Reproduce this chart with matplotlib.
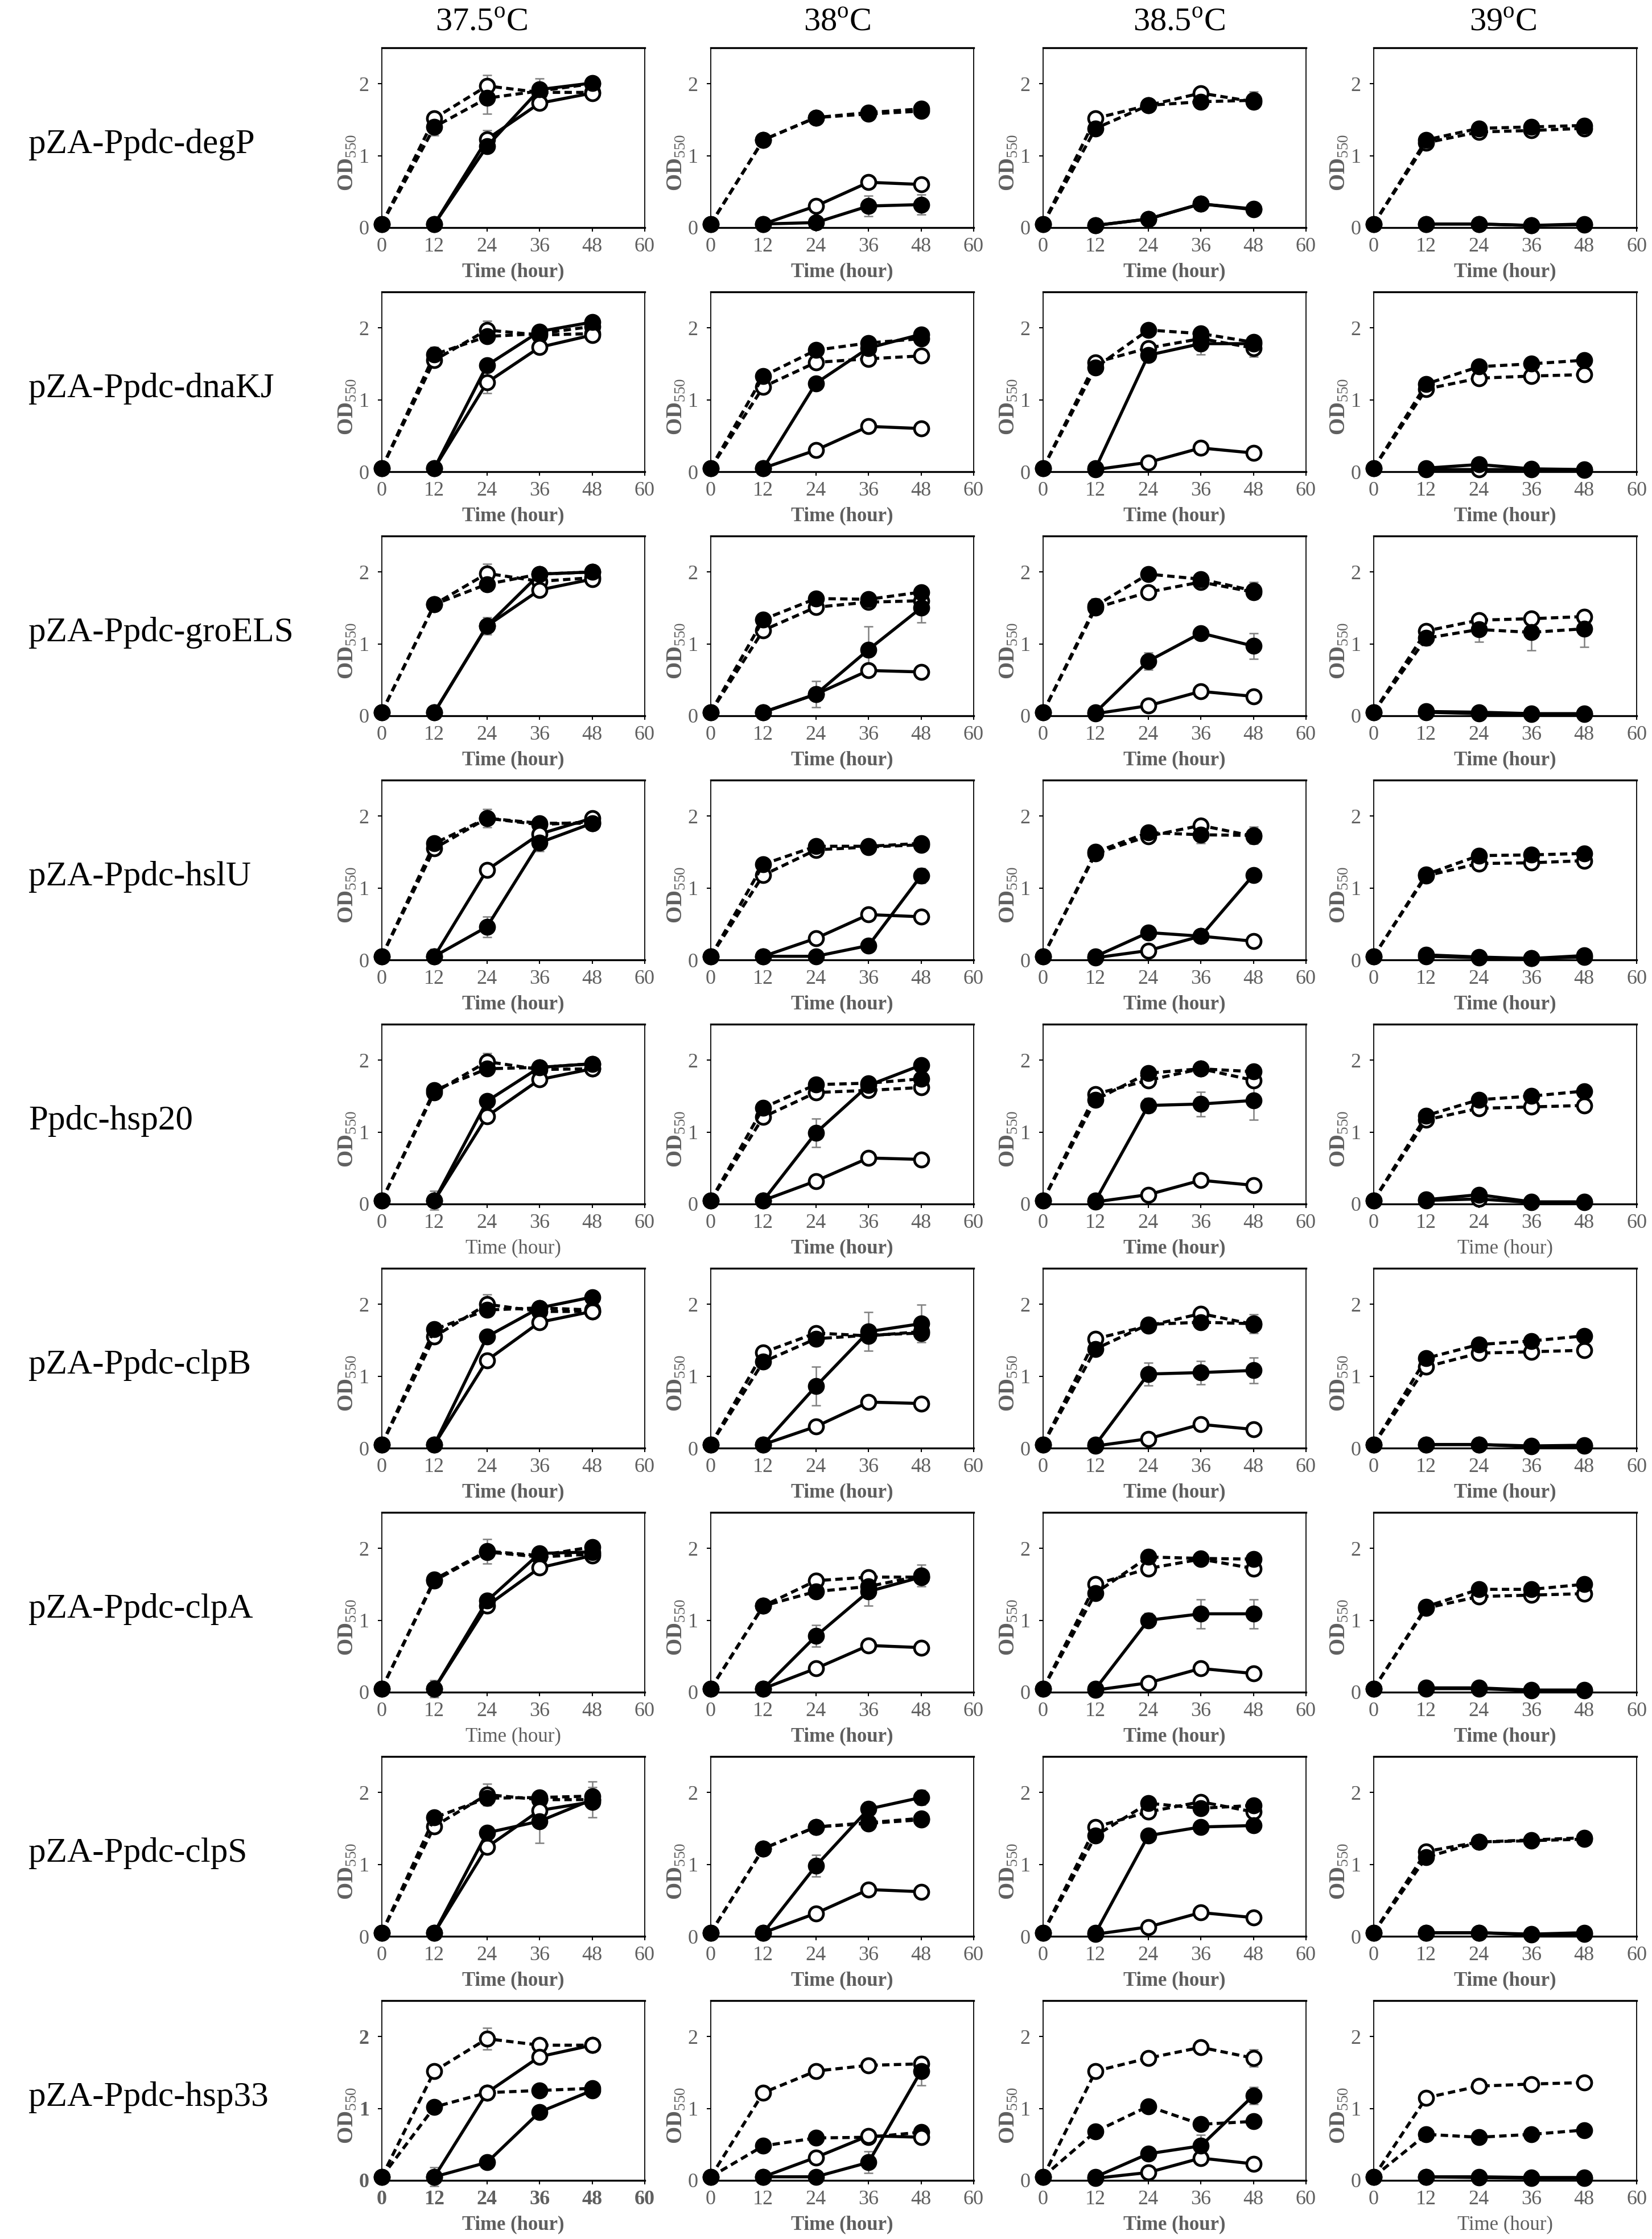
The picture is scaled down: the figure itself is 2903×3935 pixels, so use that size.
import matplotlib
matplotlib.use('Agg')
import matplotlib.pyplot as plt

plt.rcParams['font.family'] = ['Liberation Serif', 'DejaVu Serif']
plt.rcParams['mathtext.fontset'] = 'custom'
plt.rcParams['mathtext.rm'] = 'Liberation Serif'
plt.rcParams['mathtext.bf'] = 'Liberation Serif:bold'

# ---------------- DATA ----------------
temperatures = ['37.5$^{\\mathrm{o}}$C', '38$^{\\mathrm{o}}$C', '38.5$^{\\mathrm{o}}$C', '39$^{\\mathrm{o}}$C']
constructs = ['pZA-Ppdc-degP', 'pZA-Ppdc-dnaKJ', 'pZA-Ppdc-groELS', 'pZA-Ppdc-hslU', 'Ppdc-hsp20',
              'pZA-Ppdc-clpB', 'pZA-Ppdc-clpA', 'pZA-Ppdc-clpS', 'pZA-Ppdc-hsp33']

time_dash = [0, 12, 24, 36, 48]
time_solid = [12, 24, 36, 48]

# one list per temperature (37.5, 38, 38.5, 39)
degP_dash_open = [[0.05, 1.52, 1.97, 1.88, 1.88], [0.05, 1.22, 1.53, 1.58, 1.62], [0.05, 1.52, 1.70, 1.87, 1.75], [0.05, 1.18, 1.33, 1.35, 1.38]]
degP_dash_fill = [[0.05, 1.40, 1.80, 1.90, 2.00], [0.05, 1.22, 1.53, 1.60, 1.65], [0.05, 1.38, 1.70, 1.75, 1.77], [0.05, 1.22, 1.38, 1.40, 1.42]]
degP_sol_open = [[0.05, 1.23, 1.73, 1.87], [0.05, 0.30, 0.63, 0.60], [0.03, 0.12, 0.33, 0.25], [0.05, 0.05, 0.03, 0.04]]
degP_sol_fill = [[0.05, 1.13, 1.92, 2.01], [0.05, 0.07, 0.30, 0.32], [0.03, 0.12, 0.33, 0.26], [0.05, 0.05, 0.03, 0.05]]

dnaKJ_dash_open = [[0.05, 1.55, 1.97, 1.90, 1.92], [0.05, 1.18, 1.52, 1.57, 1.61], [0.05, 1.52, 1.72, 1.85, 1.72], [0.05, 1.15, 1.30, 1.33, 1.35]]
dnaKJ_dash_fill = [[0.05, 1.63, 1.88, 1.92, 2.02], [0.05, 1.33, 1.69, 1.79, 1.85], [0.05, 1.45, 1.97, 1.92, 1.80], [0.05, 1.22, 1.46, 1.50, 1.55]]
dnaKJ_sol_open = [[0.05, 1.24, 1.73, 1.90], [0.05, 0.30, 0.63, 0.60], [0.03, 0.13, 0.33, 0.26], [0.03, 0.03, 0.03, 0.02]]
dnaKJ_sol_fill = [[0.05, 1.48, 1.95, 2.08], [0.05, 1.23, 1.72, 1.91], [0.05, 1.62, 1.78, 1.78], [0.05, 0.10, 0.04, 0.03]]

groELS_dash_open = [[0.05, 1.55, 1.98, 1.87, 1.92], [0.05, 1.19, 1.51, 1.58, 1.60], [0.05, 1.50, 1.72, 1.86, 1.72], [0.05, 1.18, 1.33, 1.35, 1.38]]
groELS_dash_fill = [[0.05, 1.55, 1.83, 1.97, 2.00], [0.05, 1.34, 1.63, 1.62, 1.72], [0.05, 1.53, 1.97, 1.90, 1.74], [0.05, 1.08, 1.20, 1.16, 1.21]]
groELS_sol_open = [[0.05, 1.25, 1.75, 1.90], [0.05, 0.30, 0.63, 0.61], [0.03, 0.14, 0.34, 0.27], [0.05, 0.03, 0.02, 0.02]]
groELS_sol_fill = [[0.05, 1.25, 1.97, 2.00], [0.05, 0.30, 0.92, 1.50], [0.05, 0.76, 1.15, 0.97], [0.06, 0.05, 0.03, 0.03]]

hslU_dash_open = [[0.05, 1.55, 1.97, 1.88, 1.92], [0.05, 1.18, 1.53, 1.57, 1.60], [0.05, 1.48, 1.72, 1.87, 1.72], [0.05, 1.17, 1.34, 1.35, 1.38]]
hslU_dash_fill = [[0.05, 1.62, 1.97, 1.90, 1.90], [0.05, 1.33, 1.58, 1.58, 1.62], [0.05, 1.50, 1.77, 1.74, 1.73], [0.05, 1.19, 1.45, 1.46, 1.48]]
hslU_sol_open = [[0.05, 1.25, 1.75, 1.97], [0.05, 0.30, 0.63, 0.60], [0.03, 0.13, 0.33, 0.26], [0.05, 0.03, 0.02, 0.04]]
hslU_sol_fill = [[0.05, 0.46, 1.63, 1.90], [0.05, 0.05, 0.20, 1.17], [0.05, 0.38, 0.33, 1.18], [0.07, 0.04, 0.02, 0.06]]

hsp20_dash_open = [[0.05, 1.55, 1.98, 1.87, 1.88], [0.05, 1.21, 1.55, 1.58, 1.62], [0.05, 1.53, 1.72, 1.88, 1.72], [0.05, 1.17, 1.33, 1.35, 1.37]]
hsp20_dash_fill = [[0.05, 1.58, 1.88, 1.90, 1.95], [0.05, 1.34, 1.66, 1.68, 1.74], [0.05, 1.45, 1.82, 1.88, 1.84], [0.05, 1.23, 1.45, 1.50, 1.57]]
hsp20_sol_open = [[0.05, 1.22, 1.73, 1.88], [0.05, 0.32, 0.64, 0.62], [0.03, 0.13, 0.33, 0.26], [0.05, 0.07, 0.02, 0.02]]
hsp20_sol_fill = [[0.05, 1.43, 1.90, 1.95], [0.05, 0.99, 1.65, 1.93], [0.05, 1.37, 1.39, 1.44], [0.06, 0.13, 0.03, 0.03]]

clpB_dash_open = [[0.05, 1.55, 2.00, 1.90, 1.90], [0.05, 1.33, 1.60, 1.56, 1.62], [0.05, 1.52, 1.70, 1.87, 1.72], [0.05, 1.13, 1.32, 1.34, 1.36]]
clpB_dash_fill = [[0.05, 1.65, 1.92, 1.95, 1.92], [0.05, 1.20, 1.52, 1.57, 1.60], [0.05, 1.38, 1.72, 1.75, 1.73], [0.05, 1.25, 1.44, 1.49, 1.56]]
clpB_sol_open = [[0.05, 1.22, 1.75, 1.90], [0.05, 0.30, 0.64, 0.62], [0.03, 0.13, 0.33, 0.26], [0.05, 0.05, 0.02, 0.03]]
clpB_sol_fill = [[0.05, 1.55, 1.95, 2.10], [0.05, 0.86, 1.62, 1.73], [0.05, 1.03, 1.05, 1.08], [0.05, 0.05, 0.03, 0.04]]

clpA_dash_open = [[0.05, 1.55, 1.95, 1.88, 1.92], [0.05, 1.20, 1.55, 1.60, 1.60], [0.05, 1.50, 1.72, 1.85, 1.72], [0.05, 1.17, 1.33, 1.35, 1.37]]
clpA_dash_fill = [[0.05, 1.57, 1.96, 1.90, 2.02], [0.05, 1.20, 1.40, 1.47, 1.62], [0.05, 1.38, 1.88, 1.86, 1.85], [0.05, 1.19, 1.43, 1.43, 1.50]]
clpA_sol_open = [[0.05, 1.20, 1.73, 1.90], [0.05, 0.33, 0.65, 0.62], [0.03, 0.13, 0.33, 0.26], [0.05, 0.05, 0.02, 0.02]]
clpA_sol_fill = [[0.05, 1.27, 1.93, 1.95], [0.05, 0.78, 1.40, 1.60], [0.05, 1.00, 1.09, 1.09], [0.06, 0.06, 0.03, 0.03]]

clpS_dash_open = [[0.05, 1.53, 1.97, 1.90, 1.90], [0.05, 1.22, 1.52, 1.57, 1.62], [0.05, 1.52, 1.73, 1.87, 1.73], [0.05, 1.18, 1.31, 1.33, 1.35]]
clpS_dash_fill = [[0.05, 1.65, 1.92, 1.93, 1.95], [0.05, 1.22, 1.52, 1.58, 1.64], [0.05, 1.40, 1.85, 1.78, 1.82], [0.05, 1.10, 1.31, 1.34, 1.37]]
clpS_sol_open = [[0.05, 1.24, 1.75, 1.87], [0.05, 0.32, 0.65, 0.62], [0.03, 0.13, 0.33, 0.26], [0.05, 0.05, 0.02, 0.03]]
clpS_sol_fill = [[0.05, 1.44, 1.60, 1.90], [0.05, 0.98, 1.77, 1.93], [0.05, 1.40, 1.52, 1.54], [0.05, 0.05, 0.03, 0.05]]

hsp33_dash_open = [[0.05, 1.52, 1.97, 1.88, 1.88], [0.05, 1.22, 1.52, 1.60, 1.62], [0.05, 1.52, 1.70, 1.85, 1.70], [0.05, 1.15, 1.31, 1.34, 1.36]]
hsp33_dash_fill = [[0.05, 1.02, 1.22, 1.25, 1.28], [0.05, 0.48, 0.59, 0.60, 0.67], [0.05, 0.68, 1.03, 0.78, 0.82], [0.05, 0.64, 0.60, 0.64, 0.70]]
hsp33_sol_open = [[0.05, 1.22, 1.72, 1.88], [0.05, 0.32, 0.62, 0.60], [0.03, 0.11, 0.31, 0.23], [0.05, 0.04, 0.03, 0.03]]
hsp33_sol_fill = [[0.05, 0.25, 0.95, 1.25], [0.05, 0.05, 0.25, 1.52], [0.05, 0.37, 0.48, 1.18], [0.05, 0.05, 0.04, 0.04]]

# (row, column, series, time, sd)
error_bars = [
    (0, 0, 'dash_open', 24, 0.15), (0, 0, 'dash_fill', 24, 0.22), (0, 0, 'dash_fill', 12, 0.12),
    (0, 0, 'sol_open', 24, 0.12), (0, 0, 'sol_fill', 36, 0.15),
    (0, 1, 'sol_fill', 36, 0.14), (0, 1, 'sol_fill', 48, 0.14), (0, 1, 'sol_open', 24, 0.08),
    (0, 2, 'dash_fill', 48, 0.12), (0, 2, 'dash_fill', 12, 0.08),
    (1, 0, 'dash_fill', 12, 0.10), (1, 0, 'dash_open', 24, 0.13), (1, 0, 'sol_open', 24, 0.15),
    (1, 1, 'dash_fill', 24, 0.08),
    (1, 2, 'dash_fill', 24, 0.08), (1, 2, 'sol_fill', 36, 0.15), (1, 2, 'dash_open', 48, 0.12),
    (1, 3, 'sol_fill', 24, 0.08),
    (2, 0, 'dash_open', 24, 0.13), (2, 0, 'dash_fill', 24, 0.10), (2, 0, 'sol_open', 24, 0.12),
    (2, 1, 'sol_fill', 24, 0.18), (2, 1, 'sol_fill', 36, 0.32), (2, 1, 'sol_fill', 48, 0.20), (2, 1, 'sol_open', 36, 0.06),
    (2, 2, 'sol_fill', 24, 0.12), (2, 2, 'sol_fill', 48, 0.18), (2, 2, 'dash_fill', 48, 0.12), (2, 2, 'dash_fill', 12, 0.10),
    (2, 3, 'dash_fill', 12, 0.10), (2, 3, 'dash_fill', 24, 0.17), (2, 3, 'dash_fill', 36, 0.25), (2, 3, 'dash_fill', 48, 0.25),
    (3, 0, 'dash_fill', 24, 0.13), (3, 0, 'sol_fill', 24, 0.14), (3, 0, 'sol_fill', 36, 0.12), (3, 0, 'sol_open', 12, 0.10),
    (3, 1, 'sol_fill', 48, 0.10), (3, 1, 'sol_open', 24, 0.07),
    (3, 2, 'dash_fill', 36, 0.12), (3, 2, 'dash_fill', 48, 0.12),
    (4, 0, 'dash_open', 24, 0.12), (4, 0, 'sol_open', 12, 0.13),
    (4, 1, 'sol_fill', 24, 0.20), (4, 1, 'dash_fill', 24, 0.08),
    (4, 2, 'sol_fill', 24, 0.10), (4, 2, 'sol_fill', 36, 0.17), (4, 2, 'sol_fill', 48, 0.27),
    (5, 0, 'dash_open', 24, 0.14),
    (5, 1, 'sol_fill', 24, 0.27), (5, 1, 'sol_fill', 36, 0.27), (5, 1, 'sol_fill', 48, 0.26),
    (5, 2, 'sol_fill', 24, 0.16), (5, 2, 'sol_fill', 36, 0.16), (5, 2, 'sol_fill', 48, 0.18), (5, 2, 'dash_fill', 48, 0.13),
    (6, 0, 'dash_fill', 24, 0.17), (6, 0, 'sol_open', 12, 0.12),
    (6, 1, 'sol_fill', 24, 0.15), (6, 1, 'sol_fill', 36, 0.20), (6, 1, 'dash_fill', 48, 0.15),
    (6, 2, 'sol_fill', 24, 0.10), (6, 2, 'sol_fill', 36, 0.20), (6, 2, 'sol_fill', 48, 0.20),
    (6, 2, 'dash_fill', 24, 0.10), (6, 2, 'dash_open', 48, 0.10),
    (7, 0, 'dash_open', 24, 0.15), (7, 0, 'sol_fill', 36, 0.30), (7, 0, 'sol_fill', 48, 0.25), (7, 0, 'dash_fill', 48, 0.12),
    (7, 1, 'sol_fill', 24, 0.15), (7, 1, 'sol_fill', 36, 0.10), (7, 1, 'sol_fill', 48, 0.10),
    (7, 2, 'dash_fill', 24, 0.08),
    (8, 0, 'dash_open', 24, 0.15), (8, 0, 'sol_open', 12, 0.13),
    (8, 1, 'sol_fill', 36, 0.15), (8, 1, 'sol_fill', 48, 0.20),
    (8, 2, 'dash_open', 48, 0.12), (8, 2, 'sol_fill', 48, 0.12), (8, 2, 'sol_fill', 36, 0.15),
]

rows = [
    (degP_dash_open, degP_dash_fill, degP_sol_open, degP_sol_fill),
    (dnaKJ_dash_open, dnaKJ_dash_fill, dnaKJ_sol_open, dnaKJ_sol_fill),
    (groELS_dash_open, groELS_dash_fill, groELS_sol_open, groELS_sol_fill),
    (hslU_dash_open, hslU_dash_fill, hslU_sol_open, hslU_sol_fill),
    (hsp20_dash_open, hsp20_dash_fill, hsp20_sol_open, hsp20_sol_fill),
    (clpB_dash_open, clpB_dash_fill, clpB_sol_open, clpB_sol_fill),
    (clpA_dash_open, clpA_dash_fill, clpA_sol_open, clpA_sol_fill),
    (clpS_dash_open, clpS_dash_fill, clpS_sol_open, clpS_sol_fill),
    (hsp33_dash_open, hsp33_dash_fill, hsp33_sol_open, hsp33_sol_fill),
]

# panels whose x label is not bold in the original
plain_xlabel = [(4, 0), (4, 3), (6, 0), (8, 3)]
bold_ticks = [(8, 0)]

# ---------------- STYLE / LAYOUT ----------------
W, H = 2903, 3935
grey = '#5f5f5f'
err_grey = '#808080'
col_left = [671, 1249, 1833, 2414]
ax_w = 462
ax_h = 316
row_top0 = 84
row_step = 429

series_style = {
    'dash_open': dict(ls=(0, (2.4, 1.4)), mfc='white'),
    'dash_fill': dict(ls=(0, (2.4, 1.4)), mfc='black'),
    'sol_open': dict(ls='-', mfc='white'),
    'sol_fill': dict(ls='-', mfc='black'),
}

fig = plt.figure(figsize=(W / 100, H / 100), dpi=100)

for r, series in enumerate(rows):
    top = row_top0 + row_step * r
    for c in range(4):
        ax = fig.add_axes([col_left[c] / W, 1 - (top + ax_h) / H, ax_w / W, ax_h / H])
        values = dict(zip(['dash_open', 'dash_fill', 'sol_open', 'sol_fill'], [s[c] for s in series]))

        # error bars first, under the markers
        for (er, ec, key, t, sd) in error_bars:
            if er == r and ec == c:
                xs = time_dash if key.startswith('dash') else time_solid
                y = values[key][xs.index(t)]
                ax.errorbar([t], [y], yerr=[sd], fmt='none', ecolor=err_grey, elinewidth=1.8,
                            capsize=6, capthick=1.8, zorder=2, clip_on=False)

        z = 3
        for key in ['dash_open', 'dash_fill', 'sol_open', 'sol_fill']:
            xs = time_dash if key.startswith('dash') else time_solid
            st = series_style[key]
            ax.plot(xs, values[key], color='black', lw=3.9, ls=st['ls'], marker='o',
                    ms=18, mfc=st['mfc'], mec='black', mew=3.4, zorder=z, clip_on=False)
            z += 1

        ax.set_xlim(0, 60)
        ax.set_ylim(0, 2.5)
        ax.set_xticks([0, 12, 24, 36, 48, 60])
        ax.set_yticks([0, 1, 2])

        tick_weight = 'bold' if (r, c) in bold_ticks else 'normal'
        ax.tick_params(axis='both', direction='out', length=5, width=1.5, colors='black',
                       labelcolor=grey, labelsize=26)
        ax.tick_params(axis='x', pad=7)
        ax.tick_params(axis='y', pad=11)
        for lab in ax.get_xticklabels() + ax.get_yticklabels():
            lab.set_fontweight(tick_weight)

        for side in ['left', 'right']:
            ax.spines[side].set_linewidth(1.3)
        for side in ['top', 'bottom']:
            ax.spines[side].set_linewidth(2.4)

        xw = 'normal' if (r, c) in plain_xlabel else 'bold'
        ax.set_xlabel('Time (hour)', fontsize=25, color=grey, fontweight=xw, va='center')
        ax.xaxis.set_label_coords(0.5, -0.245)
        ax.set_ylabel('$\\mathbf{OD}_{550}$', fontsize=28, color=grey, va='center')
        ax.yaxis.set_label_coords(-0.13, 0.36)

    # construct name on the left
    fig.text(50 / W, 1 - (top + ax_h / 2 + 12) / H, constructs[r], fontsize=44,
             ha='left', va='center')

# temperature titles
title_x = [846, 1471, 2072, 2641]
for c, t in enumerate(temperatures):
    fig.text(title_x[c] / W, 1 - 40 / H, t, fontsize=42, ha='center', va='center')

fig.savefig('out.png', dpi=100)
